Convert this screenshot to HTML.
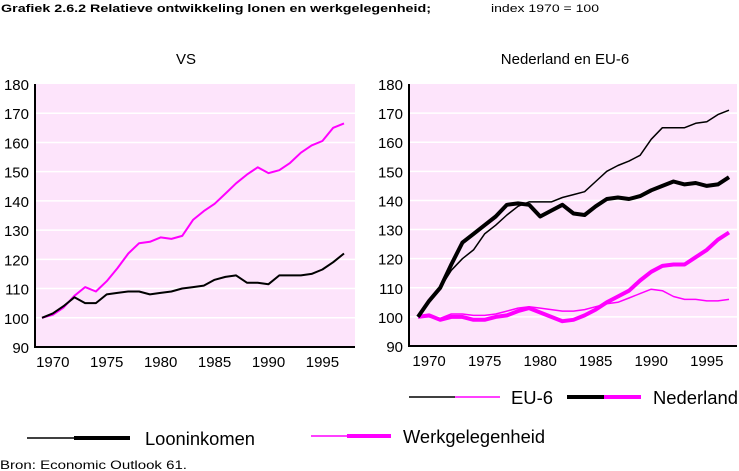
<!DOCTYPE html><html><head><style>body{margin:0;background:#fff}svg{display:block;font-family:"Liberation Sans",sans-serif}</style></head><body>
<svg id="s" width="739" height="471" viewBox="0 0 739 471">
<text x="1" y="12" font-size="11" font-weight="bold" textLength="430" lengthAdjust="spacingAndGlyphs">Grafiek 2.6.2  Relatieve ontwikkeling lonen en werkgelegenheid;</text>
<text x="491" y="12" font-size="11" textLength="108" lengthAdjust="spacingAndGlyphs">index 1970 = 100</text>
<text x="186" y="64" font-size="15" text-anchor="middle">VS</text>
<text x="565" y="64" font-size="15" text-anchor="middle">Nederland en EU-6</text>
<rect x="35" y="84" width="320" height="263" fill="#fde4fb"/>
<rect x="409" y="84" width="328" height="262" fill="#fde4fb"/>
<g id="g"></g>
<line x1="409" y1="397" x2="455" y2="397" stroke="#000" stroke-width="1.5"/>
<line x1="455" y1="397" x2="500" y2="397" stroke="#f0f" stroke-width="1.5"/>
<text x="511" y="404" font-size="18" textLength="42" lengthAdjust="spacingAndGlyphs">EU-6</text>
<line x1="567" y1="397" x2="604" y2="397" stroke="#000" stroke-width="4"/>
<line x1="604" y1="397" x2="641" y2="397" stroke="#f0f" stroke-width="4"/>
<text x="653" y="404" font-size="18" textLength="85" lengthAdjust="spacingAndGlyphs">Nederland</text>
<line x1="27" y1="438" x2="74" y2="438" stroke="#000" stroke-width="1.5"/>
<line x1="74" y1="438" x2="130" y2="438" stroke="#000" stroke-width="4"/>
<text x="145" y="445" font-size="18" textLength="110" lengthAdjust="spacingAndGlyphs">Looninkomen</text>
<line x1="311" y1="436" x2="347" y2="436" stroke="#f0f" stroke-width="1.5"/>
<line x1="347" y1="436" x2="391" y2="436" stroke="#f0f" stroke-width="4"/>
<text x="403" y="443" font-size="18" textLength="142" lengthAdjust="spacingAndGlyphs">Werkgelegenheid</text>
<text x="0" y="469" font-size="12" textLength="187" lengthAdjust="spacingAndGlyphs">Bron: Economic Outlook 61.</text>
</svg>
<script>
var g=document.getElementById('g'),h='';
function P(x0,dx,y0,dy,d){return d.map((v,i)=>(x0+i*dx).toFixed(1)+','+(y0+(180-v)*dy).toFixed(1)).join(' ');}
function panel(px,pw,py,pb,x0,dx,dy,ser){
 for(var v=90;v<=180;v+=10){var y=py+(180-v)*dy;
  if(v>90&&v<180)h+='<line x1="'+px+'" x2="'+(px+pw)+'" y1="'+y+'" y2="'+y+'" stroke="#fff" stroke-width="1.5"/>';
  h+='<text x="'+(px-6)+'" y="'+(y+6)+'" font-size="15" text-anchor="end">'+v+'</text>';}
 for(var yr=1970;yr<=1995;yr+=5){h+='<text x="'+(x0+(yr-1969)*dx)+'" y="'+(pb+20)+'" font-size="15" text-anchor="middle">'+yr+'</text>';}
 ser.forEach(s=>{h+='<polyline fill="none" stroke-linejoin="round" stroke="'+s[0]+'" stroke-width="'+s[1]+'" points="'+P(x0,dx,py,dy,s[2])+'"/>';});
 h+='<polyline fill="none" stroke="#000" stroke-width="2" points="'+px+','+py+' '+px+','+pb+' '+(px+pw)+','+pb+'"/>';
}
panel(35,320,84,347,42,10.786,2.922,[
['#f0f',2,[100,101,103.5,107.5,110.5,109,112.5,117,122,125.5,126,127.5,127,128,133.5,136.5,139,142.5,146,149,151.5,149.5,150.5,153,156.5,159,160.5,165,166.5]],
['#000',2,[100,101.5,104,107,105,105,108,108.5,109,109,108,108.5,109,110,110.5,111,113,114,114.5,112,112,111.5,114.5,114.5,114.5,115,116.5,119,122]]]);
panel(409,328,84,346,418,11.107,2.911,[
['#f0f',1.5,[100,100,99.5,101,101,100.5,100.5,101,102,103,103.5,103,102.5,102,102,102.5,103.5,104.5,105,106.5,108,109.5,109,107,106,106,105.5,105.5,106]],
['#f0f',4,[100,100.5,99,100,100,99,99,100,100.5,102,103,101.5,100,98.5,99,100.5,102.5,105,107,109,112.5,115.5,117.5,118,118,120.5,123,126.5,129]],
['#000',1.5,[100,105.5,110,116,120,123,128.5,131.5,135,138,139.5,139.5,139.5,141,142,143,146.5,150,152,153.5,155.5,161,165,165,165,166.5,167,169.5,171]],
['#000',4,[100,105.5,110,118,125.5,128.5,131.5,134.5,138.5,139,138.5,134.5,136.5,138.5,135.5,135,138,140.5,141,140.5,141.5,143.5,145,146.5,145.5,146,145,145.5,148]]]);
g.innerHTML=h;
</script>
</body></html>
